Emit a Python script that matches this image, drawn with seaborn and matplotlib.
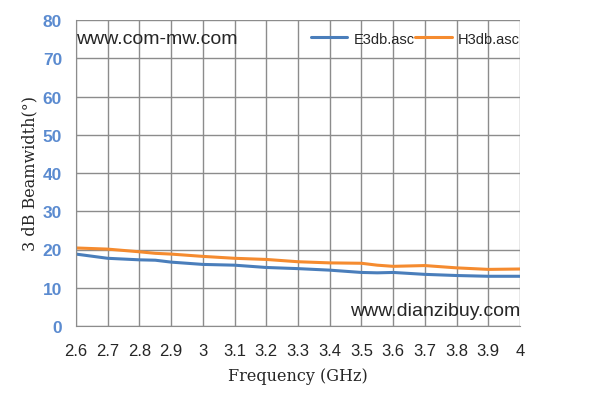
import matplotlib.pyplot as plt
import numpy as np
import pandas as pd
import seaborn as sns

sns.set_style('white')
plt.rcParams['font.family'] = ['Liberation Sans', 'DejaVu Sans']

freq = [2.6, 2.7, 2.8, 2.85, 2.9, 3.0, 3.1, 3.2, 3.3, 3.4, 3.5, 3.55, 3.6, 3.7, 3.8, 3.9, 4.0]
e3db = [18.8, 17.7, 17.3, 17.2, 16.7, 16.1, 15.9, 15.3, 15.0, 14.6, 14.0, 13.9, 14.0, 13.5, 13.2, 13.0, 13.0]
h3db = [20.4, 20.1, 19.4, 19.0, 18.8, 18.2, 17.7, 17.4, 16.8, 16.5, 16.4, 15.9, 15.6, 15.8, 15.2, 14.8, 14.9]
series = ['E3db.asc', 'H3db.asc']
colors = ['#4a7ebb', '#f58b2f']

df = pd.DataFrame({
    'freq': freq * 2,
    'bw': e3db + h3db,
    'series': [series[0]] * len(freq) + [series[1]] * len(freq),
})

fig = plt.figure(figsize=(5.94, 4.10), dpi=100)
ax = fig.add_axes([76 / 594, 83 / 410, 444 / 594, 306 / 410])

sns.lineplot(data=df, x='freq', y='bw', hue='series', palette=colors,
             linewidth=2.2, ax=ax, legend=True)

ax.set_xlim(2.6, 4.0)
ax.set_ylim(0, 80)
ax.set_xticks(np.round(np.arange(2.6, 4.01, 0.1), 1))
ax.set_xticklabels(['2.6', '2.7', '2.8', '2.9', '3', '3.1', '3.2', '3.3', '3.4',
                    '3.5', '3.6', '3.7', '3.8', '3.9', '4'], fontsize=12)
ax.set_yticks(range(0, 81, 10))
ax.set_yticklabels([str(v) for v in range(0, 81, 10)], fontsize=12.5,
                   color='#5b8bd0', fontweight='bold')
ax.grid(True, color='#8c8c8c', linewidth=1)
ax.set_axisbelow(True)
for s in ['top', 'right']:
    ax.spines[s].set_visible(False)
for s in ['left', 'bottom']:
    ax.spines[s].set_color('#8c8c8c')
ax.tick_params(axis='x', direction='out', length=5, color='#8c8c8c', pad=7)
ax.tick_params(axis='y', direction='out', length=5, color='#8c8c8c', pad=5)

ax.set_xlabel('Frequency (GHz)', fontsize=11.5, family='DejaVu Serif', labelpad=7)
ax.set_ylabel('3 dB Beamwidth(°)', fontsize=11.5, family='DejaVu Serif', labelpad=3)

ax.legend(loc='upper right', ncol=2, frameon=False, fontsize=10.5,
          handlelength=2.5, columnspacing=0.0, handletextpad=0.45,
          bbox_to_anchor=(1.03, 1.005))

ax.text(0.0, 0.94, 'www.com-mw.com', transform=ax.transAxes, fontsize=14,
        ha='left', va='center')
ax.text(1.0, 0.05, 'www.dianzibuy.com', transform=ax.transAxes, fontsize=14,
        ha='right', va='center')

plt.savefig('out.png', dpi=100)
plt.close()
